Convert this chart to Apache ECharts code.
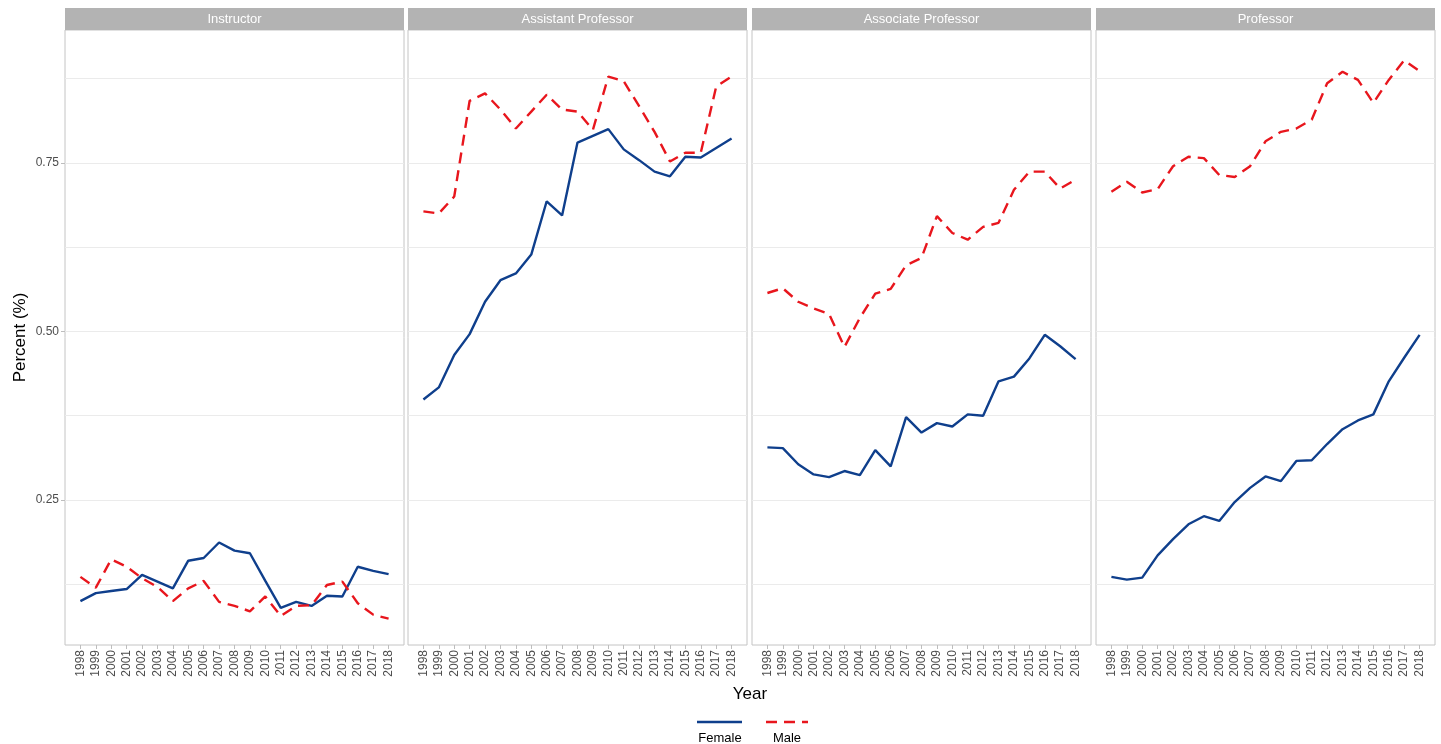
<!DOCTYPE html>
<html>
<head>
<meta charset="utf-8">
<script src="https://cdn.jsdelivr.net/npm/echarts@6/dist/echarts.min.js"></script>
<style>
  html, body { margin: 0; padding: 0; background: #fff; }
  #chart { width: 1441px; height: 744px; }
</style>
</head>
<body>
<div id="chart"></div>
<script>
const years = [1998, 1999, 2000, 2001, 2002, 2003, 2004, 2005, 2006, 2007, 2008,
  2009, 2010, 2011, 2012, 2013, 2014, 2015, 2016, 2017, 2018];
const panels = ["Instructor", "Assistant Professor", "Associate Professor", "Professor"];

// female / male share per rank
const femaleInstructor = [0.100, 0.112, 0.115, 0.118, 0.139, 0.129, 0.119, 0.160, 0.164, 0.187, 0.175,
  0.171, 0.130, 0.090, 0.099, 0.093, 0.108, 0.107, 0.151, 0.145, 0.140];
const maleInstructor = [0.136, 0.120, 0.162, 0.151, 0.134, 0.121, 0.100, 0.119, 0.130, 0.099, 0.093,
  0.085, 0.107, 0.078, 0.093, 0.094, 0.124, 0.129, 0.097, 0.080, 0.074];
const femaleAssistant = [0.399, 0.417, 0.465, 0.496, 0.544, 0.576, 0.586, 0.614, 0.693, 0.672, 0.780,
  0.790, 0.800, 0.770, 0.754, 0.737, 0.730, 0.759, 0.758, 0.772, 0.786];
const maleAssistant = [0.678, 0.675, 0.700, 0.842, 0.853, 0.829, 0.801, 0.826, 0.851, 0.829, 0.826,
  0.799, 0.878, 0.871, 0.834, 0.796, 0.752, 0.765, 0.765, 0.863, 0.878];
const femaleAssociate = [0.328, 0.327, 0.303, 0.288, 0.284, 0.293, 0.287, 0.324, 0.300, 0.373, 0.350,
  0.364, 0.359, 0.377, 0.375, 0.426, 0.433, 0.460, 0.495, 0.478, 0.459];
const maleAssociate = [0.557, 0.564, 0.544, 0.534, 0.526, 0.477, 0.520, 0.556, 0.563, 0.598, 0.609,
  0.671, 0.646, 0.636, 0.655, 0.661, 0.710, 0.737, 0.737, 0.712, 0.725];
const femaleProfessor = [0.136, 0.132, 0.135, 0.168, 0.192, 0.214, 0.226, 0.219, 0.247, 0.268, 0.285,
  0.278, 0.308, 0.309, 0.333, 0.355, 0.368, 0.377, 0.426, 0.461, 0.495];
const maleProfessor = [0.707, 0.722, 0.706, 0.711, 0.745, 0.759, 0.757, 0.732, 0.729, 0.745, 0.782,
  0.796, 0.801, 0.814, 0.868, 0.885, 0.873, 0.839, 0.873, 0.902, 0.886];

const yLabels = [0.25, 0.5, 0.75];
const yGrid = [0.125, 0.25, 0.375, 0.5, 0.625, 0.75, 0.875];

const femaleData = [femaleInstructor, femaleAssistant, femaleAssociate, femaleProfessor];
const maleData = [maleInstructor, maleAssistant, maleAssociate, maleProfessor];

const FEMALE = "#0F3F8C";
const MALE = "#E8161D";
const TEXT = "#4D4D4D";
const FONT = "Liberation Sans, Arial, sans-serif";

const panelLeft = [65, 408, 752, 1096];
const panelW = 339;
const panelTop = 30;
const panelH = 615;
const yMin = 0.035, yMax = 0.947;

const pairs = (vals) => years.map((y, i) => [y, vals[i]]);

const grids = [], xAxes = [], yAxes = [], series = [], graphics = [];

panels.forEach((name, i) => {
  grids.push({
    left: panelLeft[i], top: panelTop, width: panelW, height: panelH,
    show: true, borderColor: "#C4C4C4", borderWidth: 1, backgroundColor: "#fff",
  });
  xAxes.push({
    type: "value", gridIndex: i, min: 1997, max: 2019, interval: 1,
    axisLine: { show: false },
    splitLine: { show: false },
    axisTick: { show: true, length: 4, customValues: years, lineStyle: { color: "#BDBDBD" } },
    axisLabel: {
      customValues: years, rotate: 90, fontSize: 12, color: TEXT, fontFamily: FONT, margin: 5,
      formatter: (v) => String(v),
    },
  });
  yAxes.push({
    type: "value", gridIndex: i, min: yMin, max: yMax,
    axisLine: { show: false },
    axisTick: { show: false, customValues: yGrid },
    axisLabel: { show: false, customValues: yGrid },
    splitLine: { show: true, lineStyle: { color: "#EBEBEB", width: 1 } },
    name: i === 0 ? "Percent (%)" : "",
    nameLocation: "middle", nameGap: 36, nameRotate: 90,
    nameTextStyle: { fontSize: 17, color: "#000", fontFamily: FONT },
  });
  series.push({
    name: "Female", type: "line", xAxisIndex: i, yAxisIndex: i,
    data: pairs(femaleData[i]), showSymbol: false, silent: true,
    lineStyle: { color: FEMALE, width: 2.4 }, itemStyle: { color: FEMALE },
  });
  series.push({
    name: "Male", type: "line", xAxisIndex: i, yAxisIndex: i,
    data: pairs(maleData[i]), showSymbol: false, silent: true,
    lineStyle: { color: MALE, width: 2.4, type: [11, 7] }, itemStyle: { color: MALE },
  });
  // facet strip
  graphics.push({
    type: "rect",
    shape: { x: panelLeft[i], y: 8, width: panelW, height: panelTop - 8 },
    style: { fill: "#B3B3B3" },
  });
  graphics.push({
    type: "text", x: panelLeft[i] + panelW / 2, y: 19,
    style: { text: name, fill: "#fff", fontSize: 13, fontFamily: FONT, align: "center", verticalAlign: "middle" },
  });
});

// labelled y ticks on first panel
yAxes.push({
  type: "value", gridIndex: 0, min: yMin, max: yMax, position: "left",
  axisLine: { show: false },
  splitLine: { show: false },
  axisTick: { show: true, length: 4, customValues: yLabels, lineStyle: { color: "#BDBDBD" } },
  axisLabel: {
    customValues: yLabels, fontSize: 12, color: TEXT, fontFamily: FONT, margin: 6,
    formatter: (v) => v.toFixed(2),
  },
});

// x title and legend
graphics.push({
  type: "text", x: 750, y: 694,
  style: { text: "Year", fill: "#000", fontSize: 17, fontFamily: FONT, align: "center", verticalAlign: "middle" },
});
graphics.push({
  type: "line", shape: { x1: 697, y1: 722, x2: 742, y2: 722 },
  style: { stroke: FEMALE, lineWidth: 2.4 },
});
graphics.push({
  type: "line", shape: { x1: 766, y1: 722, x2: 808, y2: 722 },
  style: { stroke: MALE, lineWidth: 2.4, lineDash: [11, 7] },
});
graphics.push({
  type: "text", x: 720, y: 738,
  style: { text: "Female", fill: "#000", fontSize: 13, fontFamily: FONT, align: "center", verticalAlign: "middle" },
});
graphics.push({
  type: "text", x: 787, y: 738,
  style: { text: "Male", fill: "#000", fontSize: 13, fontFamily: FONT, align: "center", verticalAlign: "middle" },
});

const chart = echarts.init(document.getElementById("chart"));
chart.setOption({
  animation: false,
  backgroundColor: "#fff",
  grid: grids,
  xAxis: xAxes,
  yAxis: yAxes,
  series: series,
  graphic: graphics,
});
</script>
</body>
</html>
